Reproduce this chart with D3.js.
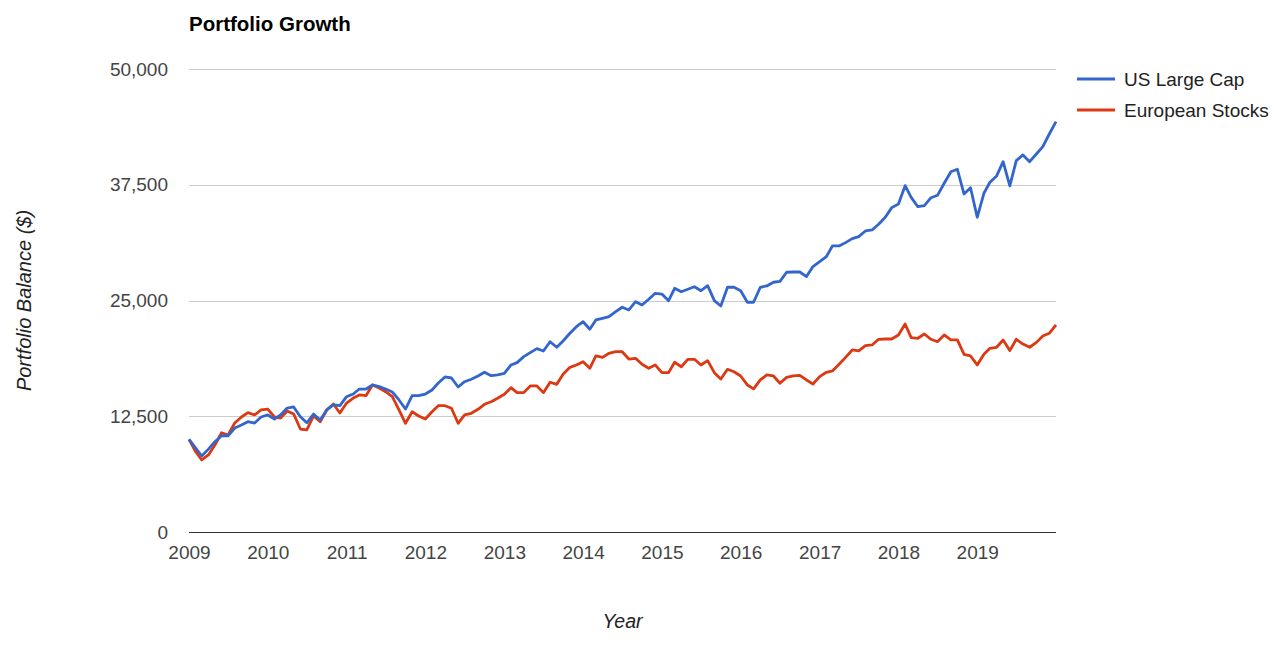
<!DOCTYPE html>
<html>
    <head>
        <title>Portfolio Growth</title>
        <script src="https://d3js.org/d3.v7.min.js"></script>
        <style>
            body { margin: 0; background: #fff; font-family: "Liberation Sans", Arial, sans-serif; }
            .tick text { font-family: "Liberation Sans", Arial, sans-serif; }
        </style>
    </head>
    <body>
        <svg width="1284" height="645"></svg>
        <script>
            // monthly balances, Jan 2009 .. Jan 2020
            const startYear = 2009;
            const usLargeCap = [
                10000, 9070, 8210, 8950, 9750, 10400, 10370, 11230, 11560, 11910, 11770, 12420,
                12640, 12200, 12640, 13390, 13500, 12450, 11800, 12740, 12100, 13180, 13720, 13640,
                14610, 14900, 15440, 15440, 15880, 15700, 15440, 15120, 14260, 13280, 14720, 14720,
                14900, 15340, 16090, 16740, 16630, 15660, 16230, 16500, 16850, 17250, 16880, 16960,
                17140, 18040, 18290, 18940, 19370, 19800, 19550, 20550, 19950, 20660, 21460, 22170,
                22710, 21890, 22900, 23080, 23250, 23790, 24270, 23980, 24870, 24520, 25130, 25780,
                25700, 24980, 26320, 25950, 26210, 26490, 26060, 26600, 24980, 24410, 26430, 26430,
                26060, 24810, 24810, 26430, 26570, 26970, 27070, 28050, 28080, 28080, 27580, 28660,
                29200, 29740, 30890, 30890, 31250, 31680, 31900, 32510, 32620, 33230, 33990, 35030,
                35420, 37400, 36140, 35130, 35240, 36100, 36360, 37660, 38910, 39170, 36500, 37180,
                33990, 36580, 37770, 38450, 39990, 37370, 40100, 40720, 39990, 40790, 41610, 42980,
                44310
            ];
            const europeanStocks = [
                10000, 8670, 7780, 8320, 9400, 10720, 10480, 11770, 12420, 12890, 12640, 13180,
                13280, 12420, 12310, 13070, 12740, 11120, 11020, 12530, 11910, 13180, 13820, 12850,
                13930, 14470, 14800, 14720, 15880, 15550, 15150, 14610, 13180, 11740, 12990, 12530,
                12200, 12990, 13640, 13640, 13360, 11740, 12640, 12820, 13250, 13790, 14070, 14440,
                14870, 15590, 15050, 15050, 15770, 15770, 15050, 16170, 15950, 17060, 17780, 18040,
                18390, 17680, 19010, 18860, 19300, 19470, 19470, 18680, 18760, 18110, 17680, 18040,
                17210, 17210, 18330, 17850, 18650, 18650, 18040, 18500, 17210, 16520, 17570, 17310,
                16850, 15880, 15450, 16420, 16960, 16850, 16060, 16700, 16850, 16920, 16420, 15980,
                16780, 17250, 17390, 18110, 18860, 19660, 19550, 20120, 20200, 20810, 20840, 20840,
                21280, 22460, 20990, 20920, 21380, 20810, 20550, 21280, 20740, 20740, 19190, 19010,
                18040, 19190, 19840, 19950, 20740, 19590, 20810, 20300, 19950, 20450, 21170, 21460,
                22360
            ];
            const seriesNames = ["US Large Cap", "European Stocks"];
            const seriesColors = ["#3366cc", "#dc3912"];
            const yTicks = [0, 12500, 25000, 37500, 50000];
            const xTickYears = [2009, 2010, 2011, 2012, 2013, 2014, 2015, 2016, 2017, 2018, 2019];

            const svg = d3.select('svg');
            let margin = { top: 69, bottom: 113, left: 189, right: 228 };
            let width = svg.attr("width") - margin.left - margin.right;
            let height = svg.attr("height") - margin.top - margin.bottom;

            const dates = usLargeCap.map((d, i) => new Date(startYear, i, 1));

            let xScale = d3.scaleTime()
                    .range([0, width])
                    .domain([dates[0], dates[dates.length - 1]]);

            let yScale = d3.scaleLinear()
                    .range([height, 0])
                    .domain([0, 50000]);

            let g = svg.append("g")
                    .attr("transform", "translate(" + margin.left + "," + margin.top + ")");

            // gridlines
            g.append('g')
                .selectAll('line')
                .data(yTicks)
                .enter().append('line')
                .attr('x1', 0)
                .attr('x2', width)
                .attr('y1', d => Math.round(yScale(d)) + 0.5)
                .attr('y2', d => Math.round(yScale(d)) + 0.5)
                .style('stroke', d => d === 0 ? '#333' : '#ccc')
                .style('stroke-width', 1);

            let yAxis = d3.axisLeft(yScale)
                    .tickValues(yTicks)
                    .tickFormat(d3.format(","))
                    .tickSize(0)
                    .tickPadding(21);
            g.append('g')
                .attr('class', 'y-axis')
                .call(yAxis)
                .call(a => a.select('.domain').remove())
                .selectAll('text')
                .style('font-size', '19px')
                .style('fill', '#444');

            let xAxis = d3.axisBottom(xScale)
                    .tickValues(xTickYears.map(y => new Date(y, 0, 1)))
                    .tickFormat(d3.timeFormat("%Y"))
                    .tickSize(0)
                    .tickPadding(14);
            g.append('g')
                .attr('class', 'x-axis')
                .attr("transform", "translate(0," + height + ")")
                .call(xAxis)
                .call(a => a.select('.domain').remove())
                .selectAll('text')
                .style('font-size', '19px')
                .style('fill', '#444');

            let line = d3.line()
                    .x((d, i) => xScale(dates[i]))
                    .y(d => yScale(d));

            [europeanStocks, usLargeCap].forEach((s, k) => {
                let idx = k === 0 ? 1 : 0;
                g.append('path')
                    .datum(s)
                    .attr('d', line)
                    .style('fill', 'none')
                    .style('stroke', seriesColors[idx])
                    .style('stroke-width', 2.8)
                    .style('stroke-linejoin', 'round');
            });

            // title
            svg.append('text')
                .attr('x', margin.left)
                .attr('y', 31)
                .style('font-size', '20.5px')
                .style('font-weight', 'bold')
                .style('fill', '#000')
                .text('Portfolio Growth');

            // axis titles
            svg.append('text')
                .attr('transform', 'translate(31,' + (margin.top + height / 2) + ') rotate(-90)')
                .style('text-anchor', 'middle')
                .style('font-size', '20px')
                .style('font-style', 'italic')
                .style('fill', '#222')
                .text('Portfolio Balance ($)');

            svg.append('text')
                .attr('x', margin.left + width / 2)
                .attr('y', 628)
                .style('text-anchor', 'middle')
                .style('font-size', '19.5px')
                .style('font-style', 'italic')
                .style('fill', '#222')
                .text('Year');

            // legend
            let legend = svg.append('g')
                    .attr('transform', 'translate(1077,79)');
            seriesNames.forEach((name, i) => {
                let row = legend.append('g')
                        .attr('transform', 'translate(0,' + (i * 31) + ')');
                row.append('line')
                    .attr('x1', 0).attr('x2', 38)
                    .style('stroke', seriesColors[i])
                    .style('stroke-width', 2.8);
                row.append('text')
                    .attr('x', 47)
                    .attr('y', 7)
                    .style('font-size', '19px')
                    .style('fill', '#222')
                    .text(name);
            });
        </script>
    </body>
</html>
